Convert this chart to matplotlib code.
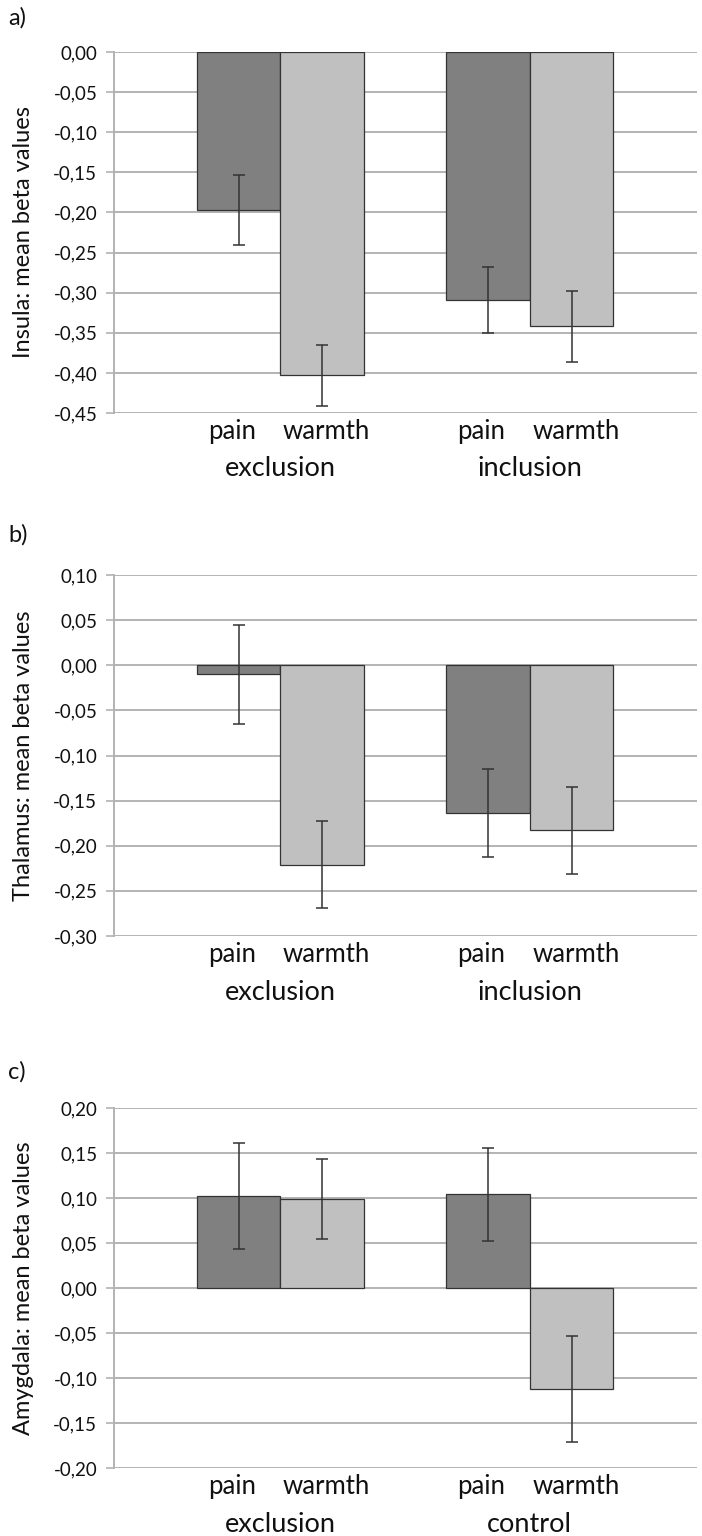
import numpy as np
import matplotlib
matplotlib.use("Agg")
import matplotlib.pyplot as plt

plt.rcParams['font.family'] = ['Lato', 'DejaVu Sans']

conditions = ["pain", "warmth"]

# panel a: insula
groups_a = ["exclusion", "inclusion"]
pain_a = [-0.197, -0.309]
pain_err_a = [0.044, 0.041]
warmth_a = [-0.403, -0.342]
warmth_err_a = [0.038, 0.044]
yticks_a = [0.00, -0.05, -0.10, -0.15, -0.20, -0.25, -0.30, -0.35, -0.40, -0.45]

# panel b: thalamus
groups_b = ["exclusion", "inclusion"]
pain_b = [-0.010, -0.164]
pain_err_b = [0.055, 0.049]
warmth_b = [-0.221, -0.183]
warmth_err_b = [0.048, 0.048]
yticks_b = [0.10, 0.05, 0.00, -0.05, -0.10, -0.15, -0.20, -0.25, -0.30]

# panel c: amygdala
groups_c = ["exclusion", "control"]
pain_c = [0.102, 0.104]
pain_err_c = [0.059, 0.052]
warmth_c = [0.099, -0.112]
warmth_err_c = [0.044, 0.059]
yticks_c = [0.20, 0.15, 0.10, 0.05, 0.00, -0.05, -0.10, -0.15, -0.20]

panels = [
    ("a)", "Insula: mean beta values", groups_a, pain_a, pain_err_a, warmth_a, warmth_err_a, yticks_a),
    ("b)", "Thalamus: mean beta values", groups_b, pain_b, pain_err_b, warmth_b, warmth_err_b, yticks_b),
    ("c)", "Amygdala: mean beta values", groups_c, pain_c, pain_err_c, warmth_c, warmth_err_c, yticks_c),
]

W, H = 702, 1536
fig = plt.figure(figsize=(W / 100, H / 100), dpi=100)

# axes boxes in pixels: (top, bottom), panel label y
boxes = [(52, 413, 18), (575, 936, 535), (1108, 1468, 1072)]
left_px, right_px = 114, 697
w = 0.335
grid_col = "#b3b3b3"
text_col = "#111111"

for (lab, ylab, groups, pain, perr, warm, werr, yt), (top, bot, ly) in zip(panels, boxes):
    ax = fig.add_axes([left_px / W, 1 - bot / H, (right_px - left_px) / W, (bot - top) / H])
    x = np.arange(len(groups))
    ax.set_axisbelow(True)
    ax.yaxis.grid(True, color=grid_col, lw=1.4)
    ekw = dict(ecolor="#333333", elinewidth=1.1, capsize=4, capthick=1.1)
    ax.bar(x - w / 2, pain, w, yerr=perr, color="#808080", edgecolor="#333333", lw=0.9, error_kw=ekw)
    ax.bar(x + w / 2, warm, w, yerr=werr, color="#c0c0c0", edgecolor="#333333", lw=0.9, error_kw=ekw)
    ax.set_xlim(-0.667, 1.67)
    ax.set_ylim(min(yt), max(yt))
    ax.set_yticks(yt)
    ax.set_yticklabels([f"{v:.2f}".replace(".", ",") for v in yt], fontsize=13.5, color=text_col)
    ax.tick_params(axis="y", length=6, color=grid_col, width=1.2, pad=6)
    ticks = np.concatenate([x - 0.195, x + 0.185])
    ax.set_xticks(np.sort(ticks))
    ax.set_xticklabels(conditions * len(groups), fontsize=18.5, color=text_col)
    ax.tick_params(axis="x", length=0, pad=4)
    for s in ["top", "right", "bottom"]:
        ax.spines[s].set_visible(False)
    ax.spines["left"].set_color(grid_col)
    ax.spines["left"].set_linewidth(1.4)
    for xi, g in zip(x, groups):
        ax.annotate(g, xy=(xi, 0), xycoords=("data", "axes fraction"),
                    xytext=(0, -56 * 0.72), textcoords="offset points",
                    ha="center", va="center", fontsize=19.5, color=text_col)
    ax.set_ylabel(ylab, fontsize=17, color=text_col)
    ax.yaxis.set_label_coords((34 - left_px) / (right_px - left_px), 0.5)
    fig.text(8 / W, 1 - ly / H, lab, fontsize=17, color=text_col, ha="left", va="center")

fig.savefig("out.png", dpi=100, facecolor="white")
